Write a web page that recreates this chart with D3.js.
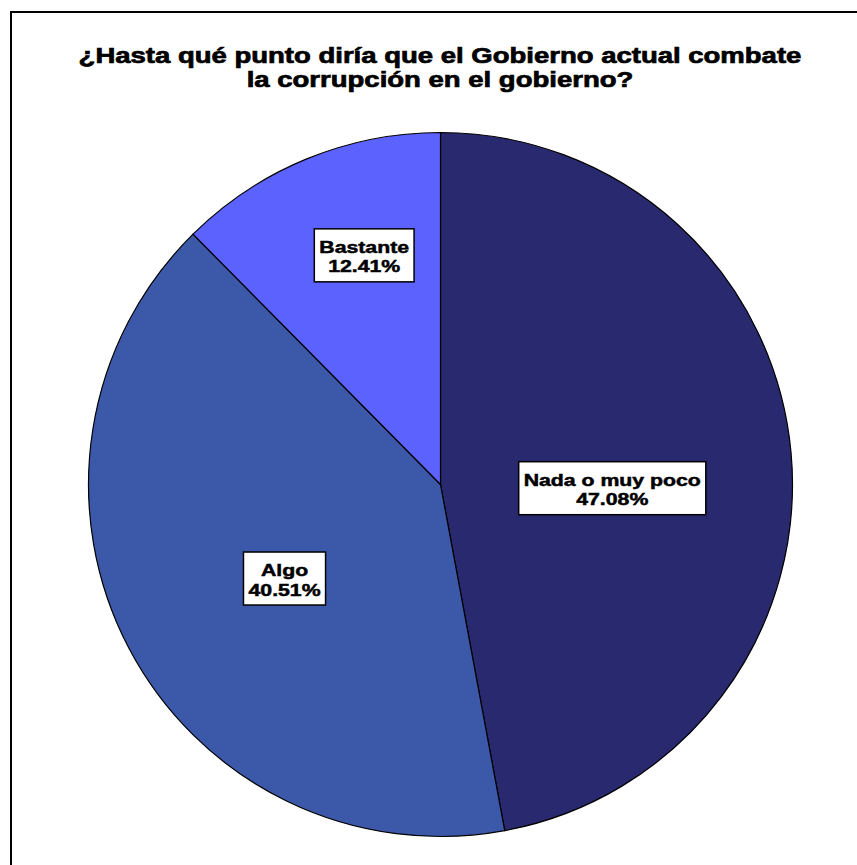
<!DOCTYPE html>
<html>
<head>
<meta charset="utf-8">
<script src="https://d3js.org/d3.v7.min.js"></script>
<style>
  body { margin: 0; background: #fff; }
  svg { display: block; }
</style>
</head>
<body>
<svg width="857" height="865"></svg>
<script>
// data
var categories = ["Nada o muy poco", "Algo", "Bastante"];
var values = [47.08, 40.51, 12.41];
var colors = ["#29296f", "#3c58a9", "#5b62fd"];
var titleLines = ["¿Hasta qué punto diría que el Gobierno actual combate", "la corrupción en el gobierno?"];

// label placement (fraction of radius) and nudges
var labelRadius = [0.49, 0.5, 0.69];
var labelDx = [0, 0, 16];
var labelDy = [20, 13, -4];
// the original font is a wide "black" face; stretch a bold one to match
var widen = 1.25;

var svg = d3.select("svg");

// frame
svg.append("rect")
  .attr("x", 11).attr("y", 12)
  .attr("width", 880).attr("height", 900)
  .attr("fill", "none").attr("stroke", "#000").attr("stroke-width", 2);

// title
var title = svg.append("text")
  .attr("text-anchor", "middle")
  .attr("font-family", "Liberation Sans, Arial, sans-serif")
  .attr("font-weight", "bold")
  .attr("font-size", 22)
  .attr("stroke", "#000").attr("stroke-width", 0.7);
titleLines.forEach(function(t, i) {
  var ts = title.append("tspan").attr("x", 440).attr("y", 63 + i * 24).text(t);
  var len = ts.node().getComputedTextLength();
  ts.attr("textLength", len * widen).attr("lengthAdjust", "spacingAndGlyphs");
});

var cx = 440.5, cy = 484.5, r = 352;
var plot = svg.append("g").attr("transform", "translate(" + cx + "," + cy + ")");

var pie = d3.pie().sort(null).value(function(d) { return d; });
var arcs = pie(values);
var arc = d3.arc().innerRadius(0).outerRadius(r);

plot.selectAll("path.slice").data(arcs).enter().append("path")
  .attr("class", "slice")
  .attr("d", arc)
  .attr("fill", function(d, i) { return colors[i]; })
  .attr("stroke", "#000")
  .attr("stroke-width", 1.2);

// labels
var labels = plot.selectAll("g.label").data(arcs).enter().append("g")
  .attr("class", "label")
  .attr("transform", function(d, i) {
    var lr = r * labelRadius[i];
    var c = d3.arc().innerRadius(lr).outerRadius(lr).centroid(d);
    return "translate(" + (c[0] + labelDx[i]) + "," + (c[1] + labelDy[i]) + ")";
  });

labels.each(function(d, i) {
  var g = d3.select(this);
  var box = g.append("rect").attr("fill", "#fff").attr("stroke", "#000").attr("stroke-width", 1.5);
  var t = g.append("text")
    .attr("text-anchor", "middle")
    .attr("font-family", "Liberation Sans, Arial, sans-serif")
    .attr("font-weight", "bold")
    .attr("font-size", 17)
    .attr("stroke", "#000").attr("stroke-width", 0.5);
  var lines = [categories[i], values[i].toFixed(2) + "%"];
  var maxW = 0;
  lines.forEach(function(s, k) {
    var ts = t.append("tspan").attr("x", 0).attr("y", k === 0 ? -3 : 16.5).text(s);
    var w = ts.node().getComputedTextLength() * widen;
    ts.attr("textLength", w).attr("lengthAdjust", "spacingAndGlyphs");
    maxW = Math.max(maxW, w);
  });
  box.attr("x", -maxW / 2 - 5).attr("y", -27).attr("width", maxW + 10).attr("height", 53);
});
</script>
</body>
</html>
